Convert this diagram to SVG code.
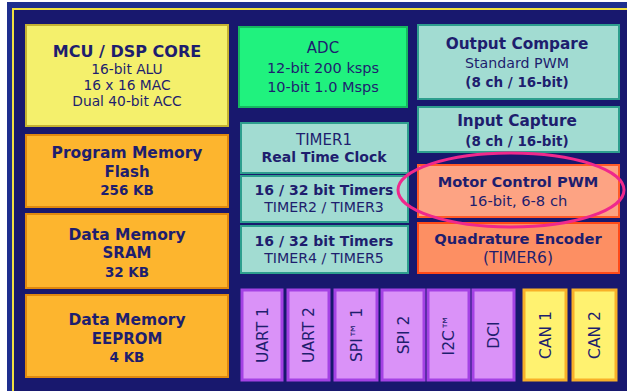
<svg xmlns="http://www.w3.org/2000/svg" width="627" height="391" viewBox="0 0 627 391">
<style>
text{font-family:"DejaVu Sans","Verdana",sans-serif;fill:#1e1e6e;text-anchor:middle}
.b{font-weight:bold}
.yel{fill:#f4f06c;stroke:#c4b232;stroke-width:2}
.org{fill:#fdb52e;stroke:#e0880e;stroke-width:2}
.grn{fill:#20f27e;stroke:#16b860;stroke-width:2}
.tea{fill:#a2dcd2;stroke:#2e9e8e;stroke-width:2}
.sal{fill:#fda383;stroke:#ff5a28;stroke-width:2}
.qe{fill:#fd8f63;stroke:#ff4a18;stroke-width:2}
.pur{fill:#da92f8;stroke:#a442e4;stroke-width:3}
.can{fill:#fff270;stroke:#f8b028;stroke-width:3}
.v{font-size:15.5px}
</style>
<rect x="0" y="0" width="627" height="391" fill="#ffffff"/>
<rect x="7" y="2" width="620" height="389" fill="#1e2f8e"/>
<rect x="12" y="8" width="615" height="383" fill="#f0e040"/>
<rect x="14" y="10" width="613" height="381" fill="#18186e"/>

<g id="mcu"><rect class="yel" x="26" y="25" width="202" height="101"/>
<text class="b" x="127" y="57" font-size="16">MCU / DSP CORE</text>
<text x="127" y="74" font-size="13.8">16-bit ALU</text>
<text x="127" y="90" font-size="13.8">16 x 16 MAC</text>
<text x="127" y="106" font-size="13.8">Dual 40-bit ACC</text></g>

<g id="flash"><rect class="org" x="26" y="135" width="202" height="72"/>
<text class="b" x="127" y="158" font-size="15.5">Program Memory</text>
<text class="b" x="127" y="177" font-size="15">Flash</text>
<text class="b" x="127" y="195" font-size="13.5">256 KB</text></g>

<g id="sram"><rect class="org" x="26" y="214" width="202" height="74"/>
<text class="b" x="127" y="240" font-size="15.5">Data Memory</text>
<text class="b" x="127" y="258" font-size="15">SRAM</text>
<text class="b" x="127" y="277" font-size="13.5">32 KB</text></g>

<g id="eeprom"><rect class="org" x="26" y="295" width="202" height="82"/>
<text class="b" x="127" y="325" font-size="15.5">Data Memory</text>
<text class="b" x="127" y="344" font-size="15">EEPROM</text>
<text class="b" x="127" y="362" font-size="13.5">4 KB</text></g>

<g id="adc"><rect class="grn" x="239" y="27" width="168" height="80"/>
<text x="323" y="53" font-size="15">ADC</text>
<text x="323" y="73" font-size="14.5">12-bit 200 ksps</text>
<text x="323" y="92" font-size="14.5">10-bit 1.0 Msps</text></g>

<g id="timer1"><rect class="tea" x="241" y="123" width="167" height="50"/>
<text x="324" y="145" font-size="15">TIMER1</text>
<text class="b" x="324" y="162" font-size="14">Real Time Clock</text></g>

<g id="timer23"><rect class="tea" x="241" y="176" width="167" height="46"/>
<text class="b" x="324" y="195" font-size="14">16 / 32 bit Timers</text>
<text x="324" y="212" font-size="14.2">TIMER2 / TIMER3</text></g>

<g id="timer45"><rect class="tea" x="241" y="226" width="167" height="47"/>
<text class="b" x="324" y="246" font-size="14">16 / 32 bit Timers</text>
<text x="324" y="263" font-size="14.2">TIMER4 / TIMER5</text></g>

<g id="oc"><rect class="tea" x="418" y="25" width="201" height="74"/>
<text class="b" x="517" y="49" font-size="15.3">Output Compare</text>
<text x="517" y="68" font-size="14.2">Standard PWM</text>
<text class="b" x="517" y="87" font-size="13.5">(8 ch / 16-bit)</text></g>

<g id="ic"><rect class="tea" x="418" y="107" width="201" height="45"/>
<text class="b" x="517" y="126" font-size="15.3">Input Capture</text>
<text class="b" x="517" y="146" font-size="13.5">(8 ch / 16-bit)</text></g>

<g id="mcpwm"><rect class="sal" x="418" y="165" width="201" height="52"/>
<text class="b" x="518" y="187" font-size="14.6">Motor Control PWM</text>
<text x="518" y="206" font-size="14.7">16-bit, 6-8 ch</text></g>

<g id="qe"><rect class="qe" x="418" y="223" width="201" height="50"/>
<text class="b" x="518" y="244" font-size="14.7">Quadrature Encoder</text>
<text x="518" y="263" font-size="15.5">(TIMER6)</text></g>

<g id="uart1"><rect class="pur" x="242" y="290" width="40" height="90"/>
<text class="v" transform="translate(262,335) rotate(-90)" y="5.5">UART 1</text></g>
<g id="uart2"><rect class="pur" x="288" y="290" width="41" height="90"/>
<text class="v" transform="translate(308.5,335) rotate(-90)" y="5.5">UART 2</text></g>
<g id="spi1"><rect class="pur" x="335" y="290" width="42" height="90"/>
<text class="v" transform="translate(356,335) rotate(-90)" y="5.5">SPI™ 1</text></g>
<g id="spi2"><rect class="pur" x="382" y="290" width="42" height="90"/>
<text class="v" transform="translate(403,335) rotate(-90)" y="5.5">SPI 2</text></g>
<g id="i2c"><rect class="pur" x="428" y="290" width="41" height="90"/>
<text class="v" transform="translate(448.5,335) rotate(-90)" y="5.5">I2C™</text></g>
<g id="dci"><rect class="pur" x="473" y="290" width="41" height="90"/>
<text class="v" transform="translate(493.5,335) rotate(-90)" y="5.5">DCI</text></g>
<g id="can1"><rect class="can" x="524" y="290" width="42" height="90"/>
<text class="v" transform="translate(545,335) rotate(-90)" y="5.5">CAN 1</text></g>
<g id="can2"><rect class="can" x="573" y="290" width="43" height="90"/>
<text class="v" transform="translate(594.5,335) rotate(-90)" y="5.5">CAN 2</text></g>

<g id="highlight"><ellipse cx="511" cy="190" rx="113" ry="37" fill="none" stroke="#f0288c" stroke-width="3"/></g>
</svg>
